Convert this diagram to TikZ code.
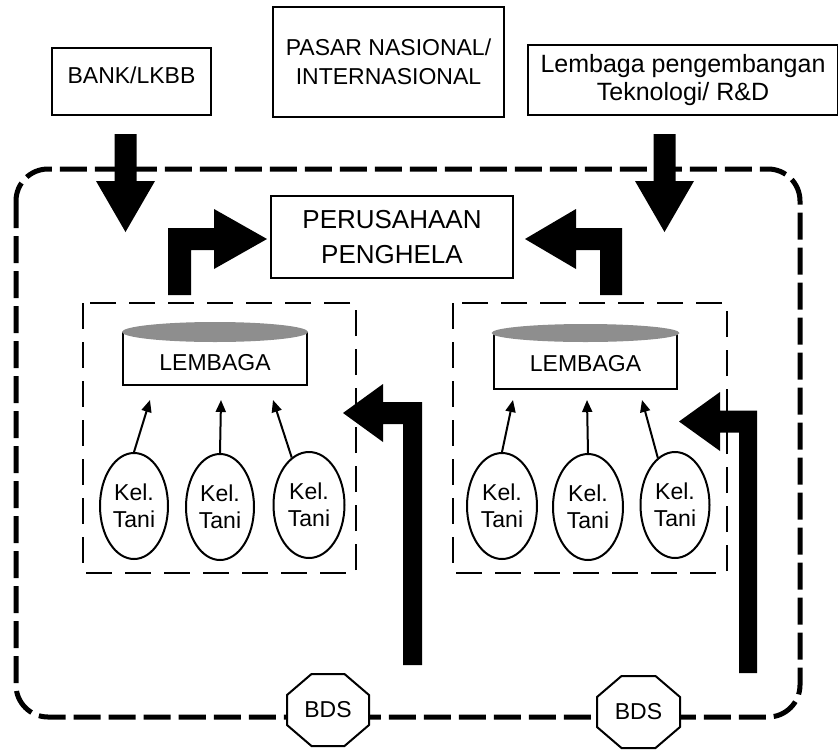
\documentclass[tikz,border=0pt]{standalone}
\usepackage{fontspec}
\setmainfont{Liberation Sans}
\usetikzlibrary{arrows.meta,shapes.geometric}
\definecolor{capgray}{HTML}{8E8E8E}
\begin{document}
\begin{tikzpicture}[x=1pt,y=-1pt,
  box/.style={draw, line width=2pt, inner sep=0pt, align=center},
  grpbox/.style={line width=2.5pt, dash pattern=on 26pt off 13pt},
  outerline/.style={line width=5pt, dash pattern=on 27pt off 8pt, rounded corners=32pt},
  tani/.style={draw, ellipse, line width=2pt, minimum width=68pt, minimum height=106pt, inner sep=0pt, align=center, font=\fontsize{23}{27}\selectfont},
  smallarr/.style={line width=2pt, -{Triangle[length=12pt,width=10pt]}},
  fat/.style={fill=black},
  bdsline/.style={draw, line width=2pt, fill=white},
  txt23/.style={font=\fontsize{23}{29}\selectfont},
]
\useasboundingbox (0,0) rectangle (838,750);

% outer dashed boundary
\draw[outerline] (16,169) rectangle (800,717);

% group boxes
\draw[grpbox] (83,303) rectangle (356,573);
\draw[grpbox] (453,303) rectangle (727,573);

% top boxes
\node[box, minimum width=159pt, minimum height=67pt, txt23, text height=17pt, text depth=14pt] (bank) at (131.5,81.5) {BANK/LKBB};
\node[box, minimum width=231pt, minimum height=110pt, txt23] (pasar) at (388.5,62) {PASAR NASIONAL/\\INTERNASIONAL};
\node[box, minimum width=310pt, minimum height=70pt, font=\fontsize{25}{28.5}\selectfont] (rnd) at (683,80) {Lembaga pengembangan\\Teknologi/ R\&D};
\node[box, minimum width=242pt, minimum height=82pt, font=\fontsize{26}{35}\selectfont] (ph) at (392,237) {PERUSAHAAN\\PENGHELA};

% LEMBAGA cylinders
\node[box, minimum width=184pt, minimum height=52pt, txt23, text height=28pt, text depth=6pt] (lem1) at (215,359) {LEMBAGA};
\fill[capgray] (lem1.north) ellipse [x radius=93pt, y radius=10pt];
\node[box, minimum width=183pt, minimum height=55pt, txt23, text height=25pt, text depth=6pt] (lem2) at (585.5,361.5) {LEMBAGA};
\fill[capgray] (lem2.north) ellipse [x radius=94pt, y radius=9pt];

% Kel. Tani
\node[tani] (k11) at (134,506) {Kel.\\Tani};
\node[tani] (k12) at (220,507) {Kel.\\Tani};
\node[tani, minimum width=71pt] (k13) at (309,505) {Kel.\\Tani};
\node[tani, minimum width=70pt] (k21) at (502,506) {Kel.\\Tani};
\node[tani, minimum width=70pt] (k22) at (588,507) {Kel.\\Tani};
\node[tani, minimum width=69pt] (k23) at (675,505) {Kel.\\Tani};

\coordinate (t11) at (150,400);
\coordinate (t12) at (221,400);
\coordinate (t13) at (273,400);
\coordinate (t21) at (513,400);
\coordinate (t22) at (587,400);
\coordinate (t23) at (642,400);
\draw[smallarr] (k11.north) -- (t11);
\draw[smallarr] (k12.north) -- (t12);
\draw[smallarr] (k13.110) -- (t13);
\draw[smallarr] (k21.north) -- (t21);
\draw[smallarr] (k22.north) -- (t22);
\draw[smallarr] (k23.110) -- (t23);

% fat arrows
\coordinate (bankTip) at (125.5,232);
\fill[fat, shift={(bankTip)}] (-11,-98) -- (11,-98) -- (11,-51) -- (29.5,-51) -- (0,0) -- (-29.5,-51) -- (-11,-51) -- cycle;
\coordinate (rndTip) at (664.5,232);
\fill[fat, shift={(rndTip)}] (-11,-98) -- (11,-98) -- (11,-51) -- (29.5,-51) -- (0,0) -- (-29.5,-51) -- (-11,-51) -- cycle;

\coordinate (phL) at (267,239);
\fill[fat, shift={(phL)}] (-99,56) -- (-99,-11) -- (-53,-11) -- (-53,-30) -- (0,0) -- (-53,30) -- (-53,11) -- (-76,11) -- (-76,56) -- cycle;
\coordinate (phR) at (525,239);
\fill[fat, shift={(phR)}] (97,56) -- (97,-11) -- (51,-11) -- (51,-30) -- (0,0) -- (51,30) -- (51,11) -- (75,11) -- (75,56) -- cycle;

\coordinate (g1Tip) at (343,413);
\fill[fat, shift={(g1Tip)}] (60,252) -- (60,11) -- (40,11) -- (40,29) -- (0,0) -- (40,-29) -- (40,-11) -- (79,-11) -- (79,252) -- cycle;
\coordinate (g2Tip) at (679,421.5);
\fill[fat, shift={(g2Tip)}] (60,251.5) -- (60,11) -- (41,11) -- (41,29.5) -- (0,0) -- (41,-29.5) -- (41,-11) -- (78,-11) -- (78,251.5) -- cycle;

% BDS octagons
\coordinate (bdsA) at (328,710);
\draw[bdsline, shift={(bdsA)}] (-16.5,-36) -- (16.5,-36) -- (41,-15) -- (41,15) -- (16.5,36) -- (-16.5,36) -- (-41,15) -- (-41,-15) -- cycle;
\node[txt23] (bds1) at (bdsA) {BDS};
\coordinate (bdsB) at (638.5,712);
\draw[bdsline, shift={(bdsB)}] (-17,-36) -- (17,-36) -- (41.5,-15) -- (41.5,15) -- (17,36) -- (-17,36) -- (-41.5,15) -- (-41.5,-15) -- cycle;
\node[txt23] (bds2) at (bdsB) {BDS};
\end{tikzpicture}
\end{document}
